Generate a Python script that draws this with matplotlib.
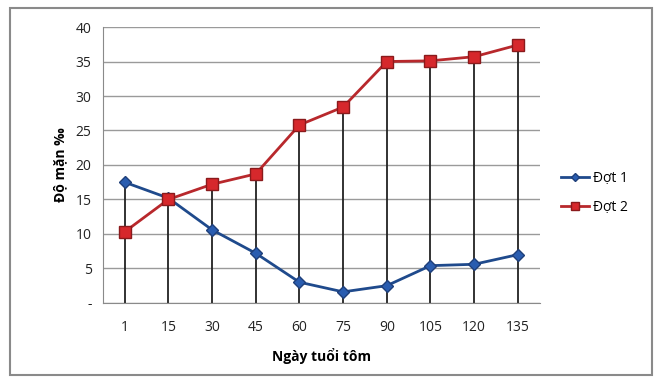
import matplotlib
matplotlib.use("Agg")
import matplotlib.pyplot as plt
from matplotlib.patches import Rectangle
from matplotlib.ticker import FuncFormatter

plt.rcParams['font.family'] = ['Open Sans', 'DejaVu Sans']

days = ['1', '15', '30', '45', '60', '75', '90', '105', '120', '135']
dot1 = [17.5, 15.2, 10.6, 7.2, 3.0, 1.6, 2.5, 5.4, 5.6, 7.0]
dot2 = [10.3, 15.0, 17.2, 18.7, 25.8, 28.4, 35.0, 35.1, 35.7, 37.4]

fig = plt.figure(figsize=(6.59, 3.81), dpi=100)
ax = fig.add_axes([0.156, 0.205, 0.663, 0.724])

# outer chart frame
fig.patches.append(Rectangle((0.015, 0.016), 0.975, 0.963, transform=fig.transFigure,
                             fill=False, edgecolor='#8a8a8a', lw=1.5))

x = list(range(len(days)))
ax.set_xlim(-0.5, len(days) - 0.5)
ax.set_ylim(0, 40)
ax.set_yticks(range(0, 41, 5))
ax.yaxis.set_major_formatter(FuncFormatter(lambda v, p: '-' if v == 0 else f'{int(v)}'))
ax.set_xticks(x)
ax.set_xticklabels(days)
ax.grid(axis='y', color='#9a9a9a', lw=1)
ax.set_axisbelow(True)

# drop lines from the upper series to the axis
tops = [max(a, b) for a, b in zip(dot1, dot2)]
ax.vlines(x, 0, tops, color='#222222', lw=1.3, zorder=2)

ax.plot(x, dot1, color='#1f4a8c', lw=2, marker='D', ms=6,
        mfc='#2a5db0', mec='#1f3f7a', label='Đợt 1', zorder=3)
ax.plot(x, dot2, color='#b8282c', lw=2, marker='s', ms=8.5,
        mfc='#d6282c', mec='#8a1a1c', label='Đợt 2', zorder=4)

for s in ['top', 'right']:
    ax.spines[s].set_visible(False)
ax.spines['left'].set_color('#8a8a8a')
ax.spines['bottom'].set_color('#8a8a8a')
ax.tick_params(length=0, labelsize=10, colors='#222222')
ax.tick_params(axis='x', pad=12)
ax.tick_params(axis='y', pad=8)

ax.set_xlabel('Ngày tuổi tôm', fontsize=10, fontweight='bold', labelpad=10)
ax.set_ylabel('Độ mặn ‰', fontsize=10, fontweight='bold', labelpad=6)

ax.legend(loc='center left', bbox_to_anchor=(1.02, 0.4), frameon=False,
          fontsize=10, handlelength=2.0, labelspacing=1.0, markerscale=0.7,
          handletextpad=0.3)

fig.savefig('out.png', dpi=100)
